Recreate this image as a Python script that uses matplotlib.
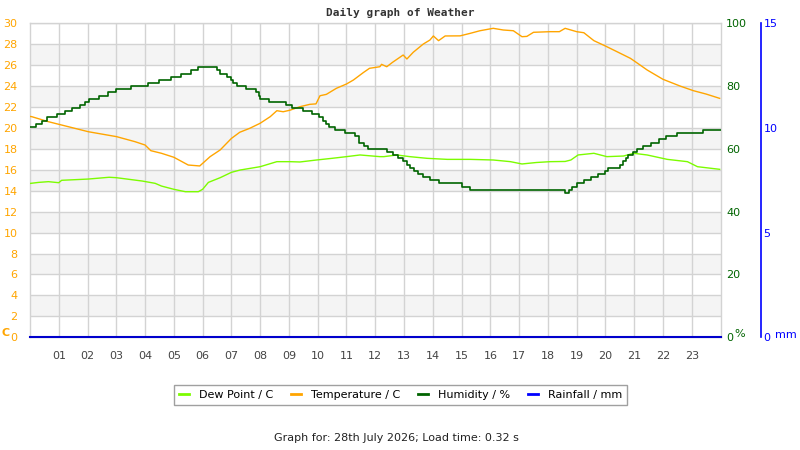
import matplotlib
matplotlib.use("Agg")
import matplotlib.pyplot as plt
from matplotlib.lines import Line2D

# ---------------- data ----------------
hour_labels = ["01", "02", "03", "04", "05", "06", "07", "08", "09", "10", "11", "12",
               "13", "14", "15", "16", "17", "18", "19", "20", "21", "22", "23"]
hour_ticks = list(range(1, 24))

temp_hours = [0, 0.06, 0.64, 1.0, 2.03, 3.01, 3.65, 4.0, 4.2, 4.57, 5.0, 5.5, 5.9, 6.26, 6.61,
              7.0, 7.29, 7.64, 8.0, 8.35, 8.58, 8.8, 9.04, 9.38, 9.73, 9.94, 10.08, 10.3, 10.65,
              11.0, 11.24, 11.59, 11.8, 12.16, 12.22, 12.4, 12.6, 12.97, 13.1, 13.32, 13.67,
              13.9, 14.02, 14.2, 14.43, 14.95, 15.3, 15.64, 16.1, 16.45, 16.8, 17.1, 17.27,
              17.5, 18.08, 18.4, 18.6, 19.0, 19.25, 19.6, 20.0, 20.4, 20.87, 21.04, 21.45,
              22.0, 22.6, 23.06, 23.5, 23.97]
temp_vals = [21.1, 21.08, 20.6, 20.35, 19.64, 19.17, 18.69, 18.37, 17.83, 17.58, 17.2, 16.46,
             16.37, 17.26, 17.9, 19.0, 19.59, 19.97, 20.45, 21.08, 21.65, 21.55, 21.7, 22.03,
             22.26, 22.3, 23.08, 23.21, 23.79, 24.2, 24.58, 25.3, 25.7, 25.85, 26.08, 25.85,
             26.27, 26.97, 26.59, 27.23, 28.02, 28.4, 28.79, 28.34, 28.79, 28.8, 29.04, 29.29,
             29.52, 29.36, 29.29, 28.72, 28.75, 29.14, 29.2, 29.2, 29.52, 29.2, 29.1, 28.34,
             27.83, 27.29, 26.65, 26.33, 25.54, 24.65, 24.0, 23.56, 23.24, 22.83]

dew_hours = [0, 0.3, 0.64, 1.0, 1.1, 2.03, 2.75, 3.0, 3.9, 4.35, 4.57, 5.0, 5.4, 5.85, 6.0,
             6.2, 6.61, 7.0, 7.3, 8.0, 8.58, 9.04, 9.38, 9.96, 10.5, 11.0, 11.47, 12.16, 12.3,
             12.75, 13.2, 13.8, 14.5, 15.3, 16.1, 16.7, 17.1, 17.6, 18.08, 18.6, 18.8, 19.05,
             19.6, 20.05, 20.63, 20.98, 21.45, 22.15, 22.85, 23.2, 23.97]
dew_vals = [14.7, 14.8, 14.87, 14.77, 15.0, 15.12, 15.29, 15.25, 14.93, 14.71, 14.45, 14.14,
            13.91, 13.91, 14.14, 14.8, 15.25, 15.76, 15.98, 16.3, 16.78, 16.78, 16.75, 16.94,
            17.1, 17.26, 17.42, 17.26, 17.26, 17.42, 17.26, 17.1, 17.0, 17.0, 16.94, 16.78,
            16.56, 16.7, 16.78, 16.8, 16.94, 17.42, 17.58, 17.26, 17.32, 17.58, 17.42, 17.0,
            16.78, 16.3, 16.05]

hum_hours = [0.0, 0.2, 0.4, 0.6, 0.95, 1.2, 1.45, 1.75, 1.9, 2.05, 2.4, 2.7, 3.0, 3.5, 4.1,
             4.5, 4.9, 5.25, 5.6, 5.85, 6.5, 6.6, 6.85, 7.0, 7.05, 7.2, 7.5, 7.85, 7.95, 8.0,
             8.3, 8.9, 9.1, 9.5, 9.8, 10.05, 10.2, 10.3, 10.4, 10.6, 10.95, 11.3, 11.45, 11.6,
             11.75, 12.4, 12.6, 12.8, 12.95, 13.1, 13.2, 13.35, 13.5, 13.65, 13.9, 14.2, 15.0,
             15.3, 18.6, 18.75, 18.85, 19.0, 19.25, 19.5, 19.75, 20.0, 20.1, 20.5, 20.6, 20.7,
             20.8, 20.95, 21.1, 21.3, 21.6, 21.85, 22.1, 22.5, 23.4, 24.0]
hum_vals = [67, 68, 69, 70, 71, 72, 73, 74, 75, 76, 77, 78, 79, 80, 81, 82, 83, 84, 85, 86,
            85, 84, 83, 82, 81, 80, 79, 78, 77, 76, 75, 74, 73, 72, 71, 70, 69, 68, 67, 66,
            65, 64, 62, 61, 60, 59, 58, 57, 56, 55, 54, 53, 52, 51, 50, 49, 48, 47, 46, 47,
            48, 49, 50, 51, 52, 53, 54, 55, 56, 57, 58, 59, 60, 61, 62, 63, 64, 65, 66, 66]

rain_hours = [0, 24]
rain_vals = [0, 0]

band_lows = [2, 6, 10, 14, 18, 22, 26]
temp_ticks = list(range(0, 31, 2))
hum_ticks = [0, 20, 40, 60, 80, 100]
rain_ticks = [0, 5, 10, 15]

# ---------------- style ----------------
C_TEMP = "#FFA500"
C_DEW = "#7CFC00"
C_HUM = "#006400"
C_RAIN = "#0000FF"
C_GRID = "#d3d3d3"
C_BAND = "#f4f4f4"

plt.rcParams["font.family"] = ["DejaVu Sans"]
plt.rcParams["font.size"] = 8

fig = plt.figure(figsize=(8, 4.5), dpi=100)
ax = fig.add_axes([30 / 800, 1 - 337.3 / 450, 690.5 / 800, 314 / 450])

ax.set_xlim(0, 24)
ax.set_ylim(0, 30)
for lo in band_lows:
    ax.axhspan(lo, lo + 2, color=C_BAND, lw=0, zorder=0)
ax.set_yticks(temp_ticks)
ax.set_xticks(hour_ticks)
ax.set_xticklabels(hour_labels)
ax.grid(True, color=C_GRID, lw=1.0, zorder=0.5)
ax.set_axisbelow(True)
ax.tick_params(axis="y", length=0, pad=9, colors=C_TEMP, labelsize=8)
ax.tick_params(axis="x", length=0, pad=10, colors="#444444", labelsize=8)
for s in ax.spines.values():
    s.set_color(C_GRID)
    s.set_linewidth(1.0)

ax.plot(dew_hours, dew_vals, color=C_DEW, lw=1.0, zorder=3)
ax.plot(temp_hours, temp_vals, color=C_TEMP, lw=1.0, zorder=3)

hum = ax.twinx()
hum.set_ylim(0, 100)
hum.set_yticks(hum_ticks)
hum.tick_params(axis="y", length=0, pad=4, colors=C_HUM, labelsize=8)
for s in hum.spines.values():
    s.set_visible(False)
hum.plot(hum_hours, hum_vals, color=C_HUM, lw=1.2, drawstyle="steps-post", zorder=3)

rain = ax.twinx()
rain.set_ylim(0, 15)
rain.set_yticks(rain_ticks)
for k in ["top", "left", "bottom"]:
    rain.spines[k].set_visible(False)
rain.spines["right"].set_position(("outward", 29))
rain.spines["right"].set_color(C_RAIN)
rain.spines["right"].set_linewidth(1.2)
rain.tick_params(axis="y", length=0, pad=2, colors=C_RAIN, labelsize=8)
rain.plot(rain_hours, rain_vals, color="#0000cc", lw=1.5, clip_on=False, zorder=4)

# axis unit labels
fig.text(6 / 800, 1 - 333 / 450, "C", color=C_TEMP, fontsize=8, fontweight="bold",
         ha="center", va="center")
fig.text(740 / 800, 1 - 334 / 450, "%", color=C_HUM, fontsize=8, ha="center", va="center")
fig.text(786 / 800, 1 - 335 / 450, "mm", color=C_RAIN, fontsize=8, ha="center", va="center")

fig.text(400 / 800, 1 - 13 / 450, "Daily graph of Weather", family="DejaVu Sans Mono",
         fontweight="bold", fontsize=8, color="#333333", ha="center", va="center")

handles = [Line2D([], [], color=C_DEW, lw=2),
           Line2D([], [], color=C_TEMP, lw=2),
           Line2D([], [], color=C_HUM, lw=2),
           Line2D([], [], color=C_RAIN, lw=2)]
labels = ["Dew Point / C", "Temperature / C", "Humidity / %", "Rainfall / mm"]
leg = fig.legend(handles, labels, loc="center", bbox_to_anchor=(400.8 / 800, 1 - 395 / 450),
                 ncol=4, frameon=True, fancybox=False, edgecolor="#888888",
                 handlelength=0.9, handletextpad=0.9, columnspacing=1.6, fontsize=8,
                 borderpad=0.45)
leg.get_frame().set_linewidth(1.0)

fig.text(396 / 800, 1 - 438 / 450, "Graph for: 28th July 2026; Load time: 0.32 s",
         fontsize=8, color="#222222", ha="center", va="center")

fig.savefig("out.png", dpi=100)
